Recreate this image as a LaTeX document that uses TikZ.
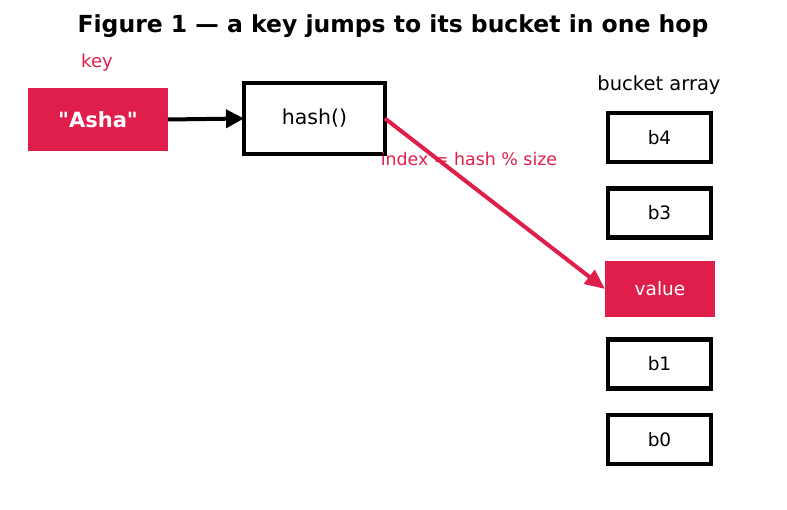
\documentclass[tikz,border=0pt]{standalone}
\usepackage{fontspec}
\setmainfont{DejaVu Sans}[Ligatures=TeXOff]
\usetikzlibrary{arrows.meta}
\definecolor{crim}{RGB}{224,30,75}
\tikzset{
  every node/.style={inner sep=0pt, outer sep=0pt},
  bucketbox/.style={draw=black, line width=4.5pt, minimum width=103pt, minimum height=49pt, font=\fontsize{18.5}{20}\selectfont},
  filledbox/.style={fill=crim, text=white},
  lbl/.style={text=crim},
}
\begin{document}
\begin{tikzpicture}[x=1pt,y=-1pt]
\useasboundingbox (0,0) rectangle (787,510);
\node (title) at (393,26) {\fontsize{23.5}{25}\selectfont\bfseries Figure 1 — a key jumps to its bucket in one hop};
\node[lbl] (keylbl) at (97,63) {\fontsize{18}{20}\selectfont key};
\node[filledbox, minimum width=140pt, minimum height=63pt, font=\fontsize{21}{23}\selectfont\bfseries] (asha) at (98,119.5) {"Asha"};
\node[draw=black, line width=4.5pt, minimum width=141pt, minimum height=71pt, font=\fontsize{20.5}{22}\selectfont] (hash) at (314.5,118.5) {hash()};
\node (barr) at (659,85) {\fontsize{19.5}{21}\selectfont bucket array};
\node[bucketbox] (b4) at (659.5,137.5) {b4};
\node[bucketbox] (b3) at (659.5,213) {b3};
\node[filledbox, minimum width=110pt, minimum height=56pt, font=\fontsize{18.5}{20}\selectfont] (val) at (660,289) {value};
\node[bucketbox] (b1) at (659.5,364) {b1};
\node[bucketbox] (b0) at (659.5,439.5) {b0};
\draw[line width=4pt, -{Triangle[length=18pt,width=18pt]}] (asha.east) -- (hash.west);
\draw[crim, line width=4pt, -{Triangle[length=20pt,width=17pt]}] (hash.east) -- (val.west);
\node[lbl] (idx) at (469,159) {\fontsize{17.4}{19}\selectfont index = hash \% size};
\end{tikzpicture}
\end{document}
